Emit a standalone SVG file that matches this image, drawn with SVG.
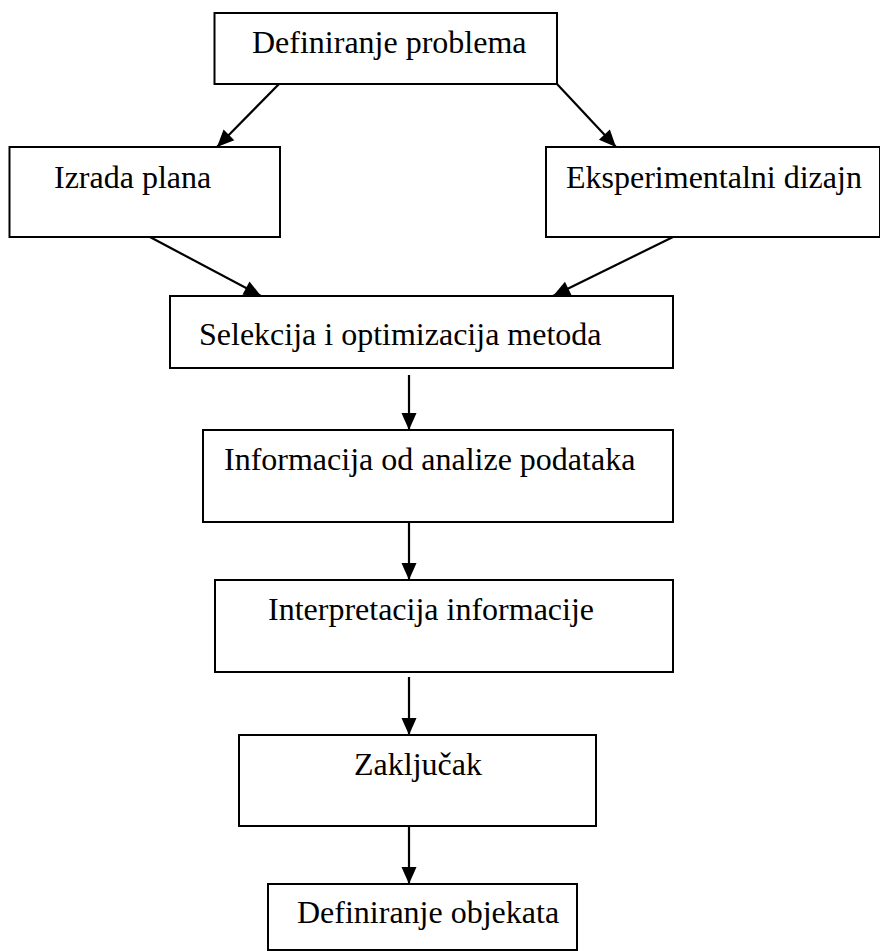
<svg xmlns="http://www.w3.org/2000/svg" width="880" height="951" viewBox="0 0 880 951">
<style>
.box{fill:#fff;stroke:#000;stroke-width:2}
.lbl{font-family:"Liberation Serif","Times New Roman",serif;font-size:32px;fill:#000}
.con{stroke:#000;stroke-width:2.2;fill:none;marker-end:url(#ah)}
</style>
<defs>
<marker id="ah" markerUnits="userSpaceOnUse" markerWidth="20" markerHeight="20" viewBox="0 0 20 20" refX="18" refY="10" orient="auto">
<path d="M1,2.5 L18,10 L1,17.5 Z" fill="#000"/>
</marker>
</defs>
<rect width="880" height="951" fill="#fff"/>
<g id="n1"><rect class="box" x="214.5" y="13" width="342.5" height="71"/><text class="lbl" x="252" y="53">Definiranje problema</text></g>
<g id="n2"><rect class="box" x="9.5" y="147" width="270.5" height="90"/><text class="lbl" x="54" y="188">Izrada plana</text></g>
<g id="n3"><rect class="box" x="546" y="147" width="334" height="90"/><text class="lbl" x="566" y="188">Eksperimentalni dizajn</text></g>
<g id="n4"><rect class="box" x="170" y="296" width="503" height="72"/><text class="lbl" x="199" y="345">Selekcija i optimizacija metoda</text></g>
<g id="n5"><rect class="box" x="203" y="430" width="470" height="92"/><text class="lbl" x="224" y="470">Informacija od analize podataka</text></g>
<g id="n6"><rect class="box" x="215" y="580" width="458" height="92"/><text class="lbl" x="268" y="620">Interpretacija informacije</text></g>
<g id="n7"><rect class="box" x="239" y="735" width="357" height="91"/><text class="lbl" x="354" y="775">Zaključak</text></g>
<g id="n8"><rect class="box" x="268" y="884" width="309" height="66"/><text class="lbl" x="297" y="923">Definiranje objekata</text></g>
<g id="connectors">
<line class="con" x1="279" y1="84" x2="217" y2="147"/>
<line class="con" x1="557" y1="84" x2="616" y2="147"/>
<line class="con" x1="150" y1="237" x2="261" y2="296"/>
<line class="con" x1="673" y1="237" x2="553" y2="296"/>
<line class="con" x1="409" y1="375" x2="409" y2="430"/>
<line class="con" x1="409" y1="522" x2="409" y2="580"/>
<line class="con" x1="409" y1="677" x2="409" y2="735"/>
<line class="con" x1="409" y1="826" x2="409" y2="884"/>
</g>
</svg>
